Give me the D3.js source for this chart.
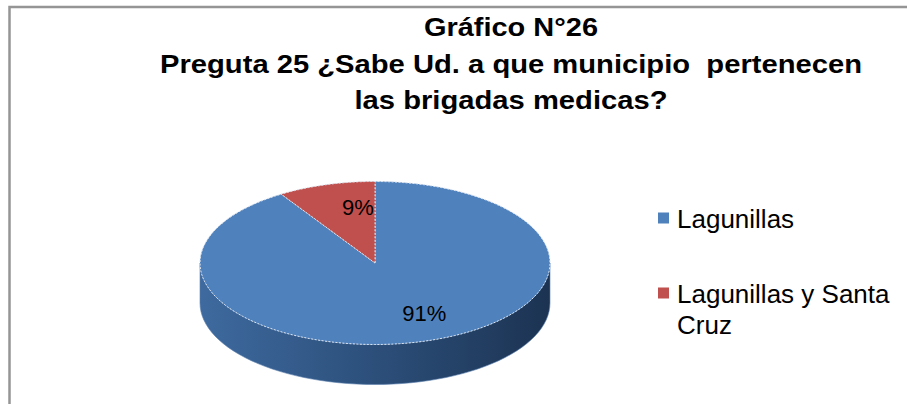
<!DOCTYPE html>
<html>
<head>
<meta charset="utf-8">
<script src="https://cdn.jsdelivr.net/npm/d3@7"></script>
<style>
  body { margin: 0; background: #fff; }
  svg { display: block; }
  text { font-family: "Liberation Sans", Arial, sans-serif; }
</style>
</head>
<body>
<svg id="chart" width="907" height="404"></svg>
<script>
// datos del gráfico
const categories = ["Lagunillas", "Lagunillas y Santa Cruz"];
const values = [91, 9];
const colors = ["#4f81bd", "#c0504d"];
const titleLines = ["Gráfico N°26", "Preguta 25 ¿Sabe Ud. a que municipio  pertenecen", "las brigadas medicas?"];
const legendLines = [["Lagunillas"], ["Lagunillas y Santa", "Cruz"]];

const svg = d3.select("#chart");
const W = 907, H = 404;

// marco
svg.append("rect")
    .attr("x", 9.5).attr("y", 7)
    .attr("width", W + 20).attr("height", H + 20)
    .attr("fill", "#fff")
    .attr("stroke", "#959595")
    .attr("stroke-width", 2.5);

// título (Arial bold algo comprimido)
const titleWidths = [174, 702, 313];
const titleBase = [36, 73, 109];
svg.append("g").selectAll("text")
    .data(titleLines)
    .join("text")
    .attr("x", 511)
    .attr("y", (d, i) => titleBase[i])
    .attr("text-anchor", "middle")
    .attr("font-size", 25)
    .attr("font-weight", "bold")
    .attr("fill", "#000")
    .style("white-space", "pre")
    .attr("textLength", (d, i) => titleWidths[i])
    .attr("lengthAdjust", "spacingAndGlyphs")
    .text(d => d);

// torta 3D
const cx = 375, cy = 263, rx = 175, ry = 81.5, depth = 40;
const pie = d3.pie().sort(null).value(d => d)(values);
const pt = (t, dy = 0) => [cx + rx * Math.sin(t), cy - ry * Math.cos(t) + dy];

const defs = svg.append("defs");
const sideGrad = defs.append("linearGradient").attr("id", "side0")
    .attr("x1", "0").attr("x2", "1").attr("y1", "0").attr("y2", "0");
sideGrad.append("stop").attr("offset", "0%").attr("stop-color", "#3e6a9f");
sideGrad.append("stop").attr("offset", "50%").attr("stop-color", "#2c4f7a");
sideGrad.append("stop").attr("offset", "100%").attr("stop-color", "#1c3352");
const sideGrad1 = defs.append("linearGradient").attr("id", "side1")
    .attr("x1", "0").attr("x2", "1").attr("y1", "0").attr("y2", "0");
sideGrad1.append("stop").attr("offset", "0%").attr("stop-color", "#9a3c3a");
sideGrad1.append("stop").attr("offset", "100%").attr("stop-color", "#6a2826");

function arcPath(a, b, dy, n = 60) {
    let pts = [];
    for (let k = 0; k <= n; k++) pts.push(pt(a + (b - a) * k / n, dy));
    return pts;
}

// lado visible (mitad frontal: pi/2 .. 3pi/2)
const gSide = svg.append("g");
pie.forEach((s, i) => {
    const a = Math.max(s.startAngle, Math.PI / 2), b = Math.min(s.endAngle, 3 * Math.PI / 2);
    if (b <= a) return;
    const top = arcPath(a, b, 0), bot = arcPath(b, a, depth);
    gSide.append("path")
        .attr("d", "M" + top.concat(bot).map(p => p.join(",")).join("L") + "Z")
        .attr("fill", `url(#side${i})`)
        .attr("stroke", "#5a7fae")
        .attr("stroke-width", 0.6);
});

// cara superior
const gTop = svg.append("g");
pie.forEach((s, i) => {
    const pts = [[cx, cy]].concat(arcPath(s.startAngle, s.endAngle, 0, 120));
    gTop.append("path")
        .attr("d", "M" + pts.map(p => p.join(",")).join("L") + "Z")
        .attr("fill", colors[i])
        .attr("stroke", "#dbe4f0")
        .attr("stroke-width", 1)
        .attr("stroke-dasharray", "2,1.5");
});

// etiquetas de porcentaje
const total = d3.sum(values);
gTop.selectAll("text.pct")
    .data(pie)
    .join("text")
    .attr("class", "pct")
    .attr("x", d => { const t = (d.startAngle + d.endAngle) / 2; return cx + rx * 0.68 * Math.sin(t) + 16; })
    .attr("y", d => { const t = (d.startAngle + d.endAngle) / 2; return cy - ry * 0.68 * Math.cos(t) + 5; })
    .attr("text-anchor", "middle")
    .attr("font-size", 22)
    .attr("fill", "#000")
    .text(d => Math.round(d.value / total * 100) + "%");

// leyenda
const legY = [218, 293];
const leg = svg.append("g");
categories.forEach((c, i) => {
    leg.append("rect")
        .attr("x", 658).attr("y", legY[i] - 5.5)
        .attr("width", 11).attr("height", 11)
        .attr("fill", colors[i]);
    leg.append("text")
        .attr("x", 677).attr("y", legY[i] + 10)
        .attr("font-size", 26)
        .attr("fill", "#000")
        .selectAll("tspan")
        .data(legendLines[i])
        .join("tspan")
        .attr("x", 677)
        .attr("dy", (d, k) => k == 0 ? 0 : 31)
        .text(d => d);
});
</script>
</body>
</html>
